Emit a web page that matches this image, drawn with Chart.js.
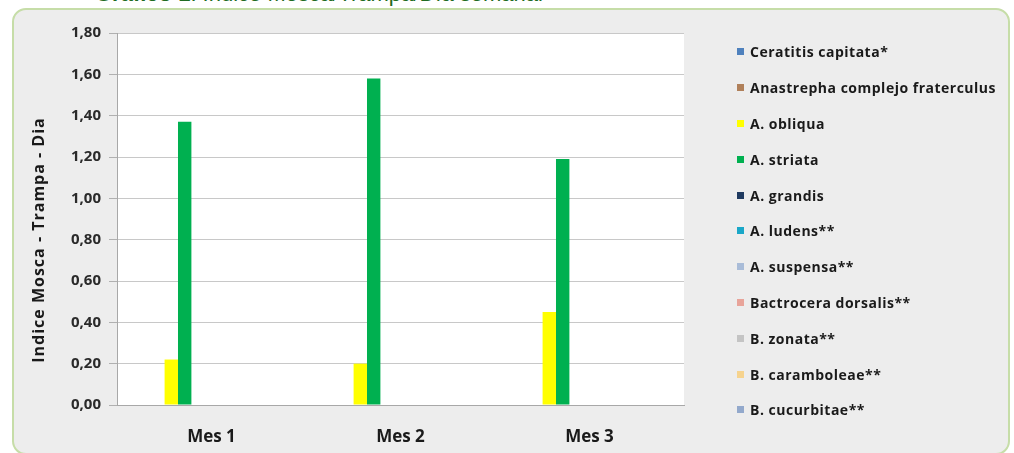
<!DOCTYPE html>
<html>
<head>
<meta charset="utf-8">
<script src="https://cdn.jsdelivr.net/npm/chart.js@4"></script>
<style>
  html, body { margin: 0; padding: 0; background: #fff; overflow: hidden; }
  body { width: 1014px; height: 453px; position: relative; }
  .titulo {
    position: absolute; left: 95px; top: -17px;
    font: 22px "Liberation Sans", Arial, sans-serif; line-height: 22px;
    color: #1f6b22; white-space: nowrap;
  }
  .caja {
    position: absolute; left: 12px; top: 8px;
    width: 994px; height: 443px;
    border: 2px solid #c6dda8; border-radius: 14px;
    background: #ededed; overflow: hidden;
  }
  .caja canvas { position: absolute; left: 0; top: 0; }
  #leyenda {
    position: absolute; left: 723px; top: 24px;
    margin: 0; padding: 0; list-style: none;
    font: bold 14px "Open Sans", sans-serif; letter-spacing: 0.5px; color: #1a1a1a;
  }
  #leyenda li { height: 35.8px; display: flex; align-items: center; white-space: nowrap; }
  #leyenda span { display: inline-block; width: 7px; height: 7px; margin-right: 6px; }
</style>
</head>
<body>
<div class="titulo"><b>Gráfico 1</b>: Índice Mosca/Trampa/Día semanal</div>
<div class="caja">
  <canvas id="grafico" width="994" height="443"></canvas>
  <ul id="leyenda"></ul>
</div>
<script>
// datos
const meses = ['Mes 1', 'Mes 2', 'Mes 3'];
const especies = [
  'Ceratitis capitata*', 'Anastrepha complejo fraterculus', 'A. obliqua', 'A. striata',
  'A. grandis', 'A. ludens**', 'A. suspensa**', 'Bactrocera dorsalis**',
  'B. zonata**', 'B. caramboleae**', 'B. cucurbitae**'
];
const colores = [
  '#4f81bd', '#b0805a', '#ffff00', '#00b050', '#1f3a60', '#1aa7c8',
  '#a9bcd8', '#e8a49a', '#c4c4c4', '#f6d38e', '#93a9cc'
];
const ceratitis = [0, 0, 0];
const fraterculus = [0, 0, 0];
const obliqua = [0.22, 0.20, 0.45];
const striata = [1.37, 1.58, 1.19];
const grandis = [0, 0, 0];
const ludens = [0, 0, 0];
const suspensa = [0, 0, 0];
const dorsalis = [0, 0, 0];
const zonata = [0, 0, 0];
const carambolae = [0, 0, 0];
const cucurbitae = [0, 0, 0];
const valores = [ceratitis, fraterculus, obliqua, striata, grandis, ludens,
  suspensa, dorsalis, zonata, carambolae, cucurbitae];

const fuente = '"Open Sans", sans-serif';

// fondo blanco del area de trazado + titulo del eje y
const fondo = {
  id: 'fondo',
  beforeDraw(chart) {
    const a = chart.chartArea, ctx = chart.ctx;
    ctx.save();
    ctx.fillStyle = '#ffffff';
    ctx.fillRect(a.left, a.top, a.right - a.left, a.bottom - a.top);
    ctx.restore();
  },
  afterDraw(chart) {
    const a = chart.chartArea, ctx = chart.ctx;
    ctx.save();
    ctx.translate(a.left - 78, (a.top + a.bottom) / 2 + 21);
    ctx.rotate(-Math.PI / 2);
    ctx.font = 'bold 16px ' + fuente;
    ctx.letterSpacing = '1px';
    ctx.fillStyle = '#1a1a1a';
    ctx.textAlign = 'center';
    ctx.textBaseline = 'middle';
    ctx.fillText('Indice Mosca - Trampa - Dia', 0, 0);
    ctx.restore();
  }
};

// leyenda en html (la de chart.js no deja tanto ancho a la derecha)
const leyendaHtml = {
  id: 'leyendaHtml',
  afterUpdate(chart) {
    const ul = document.getElementById('leyenda');
    ul.innerHTML = '';
    chart.options.plugins.legend.labels.generateLabels(chart).forEach(item => {
      const li = document.createElement('li');
      const caja = document.createElement('span');
      caja.style.background = item.fillStyle;
      li.appendChild(caja);
      li.appendChild(document.createTextNode(item.text));
      ul.appendChild(li);
    });
  }
};

new Chart(document.getElementById('grafico'), {
  type: 'bar',
  data: {
    labels: meses,
    datasets: especies.map((e, i) => ({
      label: e,
      data: valores[i],
      backgroundColor: colores[i],
      borderWidth: 0,
      barPercentage: 1,
      categoryPercentage: 0.78
    }))
  },
  options: {
    responsive: false,
    animation: false,
    layout: { padding: { top: 23, left: 0, right: 324, bottom: 0 } },
    plugins: {
      tooltip: { enabled: false },
      legend: { display: false }
    },
    scales: {
      x: {
        grid: { display: false, drawTicks: false },
        border: { display: true, color: '#a8a8a8' },
        ticks: { color: '#1a1a1a', padding: 22, font: { family: fuente, size: 17, weight: 'bold' } },
        afterFit(s) { s.height = 48; }
      },
      y: {
        min: 0, max: 1.8,
        ticks: {
          stepSize: 0.2, padding: 8, color: '#2a2a2a',
          font: { family: fuente, size: 15, weight: 'bold' },
          callback: v => v.toFixed(2).replace('.', ',')
        },
        grid: { color: '#c8c8c8', tickLength: 8, tickColor: '#b0b0b0' },
        border: { color: '#a8a8a8' },
        afterFit(s) { s.width = 103; }
      }
    }
  },
  plugins: [fondo, leyendaHtml]
});
</script>
</body>
</html>
